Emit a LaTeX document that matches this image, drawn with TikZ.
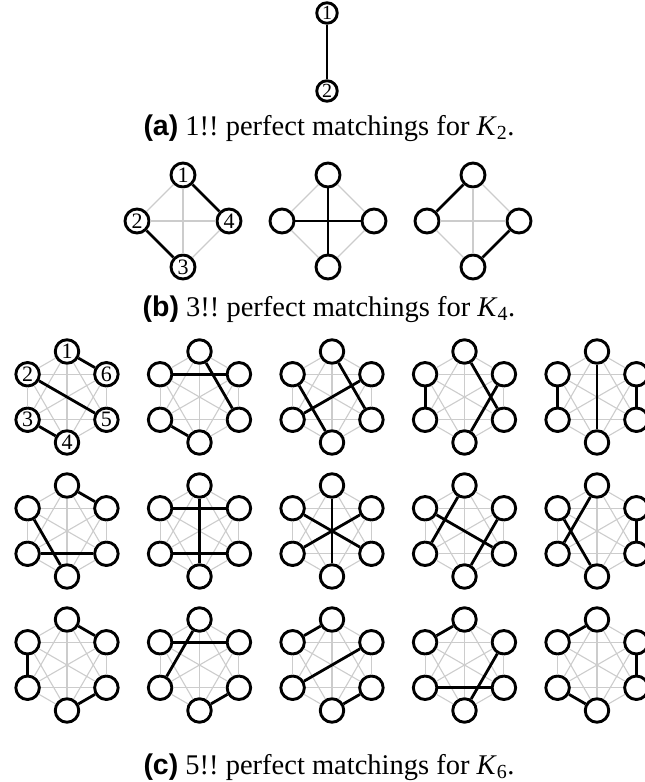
\documentclass[tikz,border=0pt]{standalone}
\usepackage{fontspec}
\setmainfont{Liberation Serif}
\newfontfamily\capfont{Liberation Sans}
\frenchspacing
\tikzset{
  vtx/.style={circle, draw, line width=2.9pt, fill=white, minimum size=23.5pt, inner sep=0pt, font=\fontsize{22}{22}\selectfont},
  faint/.style={line width=1.1pt, black!20},
  match/.style={line width=2.8pt, black},
  caption/.style={anchor=base, font=\fontsize{28.5}{32}\selectfont}
}
\newcommand{\shownum}[1]{#1}
\newcommand{\hidenum}[1]{}
% K6 with one matching: name, centre, matching, labels
\newcommand{\hexgraph}[4]{%
  \begin{scope}[shift={#2}]
    \node[vtx] (#1-1) at (0,-45.5) {#4{1}};
    \node[vtx] (#1-2) at (-39.4,-22.75) {#4{2}};
    \node[vtx] (#1-3) at (-39.4,22.75) {#4{3}};
    \node[vtx] (#1-4) at (0,45.5) {#4{4}};
    \node[vtx] (#1-5) at (39.4,22.75) {#4{5}};
    \node[vtx] (#1-6) at (39.4,-22.75) {#4{6}};
    \foreach \i in {1,...,5}{
      \pgfmathtruncatemacro{\k}{\i+1}
      \foreach \j in {\k,...,6} \draw[faint] (#1-\i) -- (#1-\j);
    }
    \foreach \a/\b in {#3} \draw[match] (#1-\a) -- (#1-\b);
  \end{scope}}
% K4 with one matching
\newcommand{\squaregraph}[4]{%
  \begin{scope}[shift={#2}]
    \node[vtx, minimum size=24pt] (#1-1) at (0,-46) {#4{1}};
    \node[vtx, minimum size=24pt] (#1-2) at (-46,0) {#4{2}};
    \node[vtx, minimum size=24pt] (#1-3) at (0,46) {#4{3}};
    \node[vtx, minimum size=24pt] (#1-4) at (46,0) {#4{4}};
    \foreach \a/\b in {1/2,1/3,1/4,2/3,2/4,3/4} \draw[faint] (#1-\a) -- (#1-\b);
    \foreach \a/\b in {#3} \draw[match] (#1-\a) -- (#1-\b);
  \end{scope}}
\begin{document}
\begin{tikzpicture}[x=1pt, y=-1pt, line join=round]
	\useasboundingbox (0,0) rectangle (645,782);
	\clip (0,0) rectangle (645,782);
	% (a) K2
	\node[vtx, minimum size=20.5pt, font=\fontsize{20}{20}\selectfont] (a-1) at (327,13) {1};
	\node[vtx, minimum size=20.5pt, font=\fontsize{20}{20}\selectfont] (a-2) at (327,91) {2};
	\draw[match] (a-1) -- (a-2);
	\node[caption] (capa) at (329,135) {{\capfont\bfseries (a)} 1!! perfect matchings for \textit{K}\textsubscript{2}.};
	% (b) K4
	\squaregraph{b1}{(183,221)}{1/4,2/3}{\shownum}
	\squaregraph{b2}{(328,221)}{1/3,2/4}{\hidenum}
	\squaregraph{b3}{(473,221)}{1/2,3/4}{\hidenum}
	\node[caption] (capb) at (329,316) {{\capfont\bfseries (b)} 3!! perfect matchings for \textit{K}\textsubscript{4}.};
	% (c) K6, first row
	\hexgraph{c11}{(67,397)}{1/6,2/5,3/4}{\shownum}
	\hexgraph{c12}{(199.5,397)}{2/6,1/5,3/4}{\hidenum}
	\hexgraph{c13}{(332,397)}{1/5,2/4,3/6}{\hidenum}
	\hexgraph{c14}{(464.5,397)}{2/3,1/5,4/6}{\hidenum}
	\hexgraph{c15}{(597,397)}{2/3,1/4,5/6}{\hidenum}
	% second row
	\hexgraph{c21}{(67,531)}{1/6,2/4,3/5}{\hidenum}
	\hexgraph{c22}{(199.5,531)}{2/6,1/4,3/5}{\hidenum}
	\hexgraph{c23}{(332,531)}{1/4,2/5,3/6}{\hidenum}
	\hexgraph{c24}{(464.5,531)}{1/3,2/5,4/6}{\hidenum}
	\hexgraph{c25}{(597,531)}{1/3,2/4,5/6}{\hidenum}
	% third row
	\hexgraph{c31}{(67,665)}{1/6,2/3,4/5}{\hidenum}
	\hexgraph{c32}{(199.5,665)}{2/6,1/3,4/5}{\hidenum}
	\hexgraph{c33}{(332,665)}{1/2,3/6,4/5}{\hidenum}
	\hexgraph{c34}{(464.5,665)}{1/2,3/5,4/6}{\hidenum}
	\hexgraph{c35}{(597,665)}{1/2,5/6,3/4}{\hidenum}
	\node[caption] (capc) at (329,774) {{\capfont\bfseries (c)} 5!! perfect matchings for \textit{K}\textsubscript{6}.};
\end{tikzpicture}
\end{document}
